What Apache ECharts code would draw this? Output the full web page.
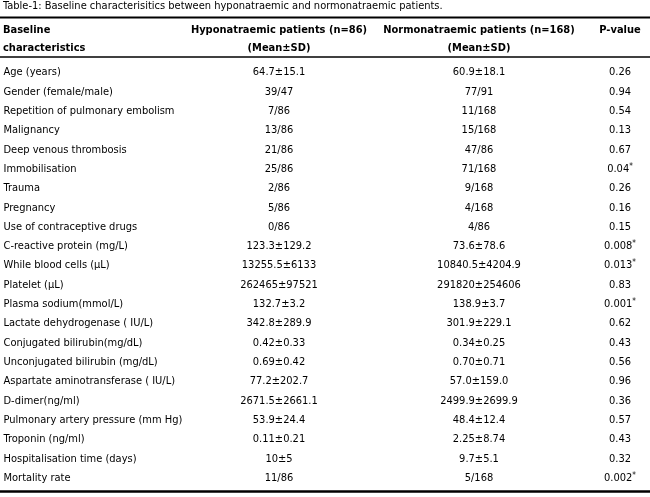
<!DOCTYPE html>
<html>
<head>
<meta charset="utf-8">
<script src="https://cdn.jsdelivr.net/npm/echarts@6/dist/echarts.min.js"></script>
<style>html,body{margin:0;padding:0;background:#fff}#c{width:650px;height:497px}</style>
</head>
<body>
<div id="c"></div>
<script>
const titleText = 'Table-1: Baseline characterisitics between hyponatraemic and normonatraemic patients.';
const headers = ['Baseline\ncharacteristics', 'Hyponatraemic patients (n=86)\n(Mean±SD)', 'Normonatraemic patients (n=168)\n(Mean±SD)', 'P-value\n\u00a0'];
const rowLabels = ['Age (years)', 'Gender (female/male)', 'Repetition of pulmonary embolism', 'Malignancy', 'Deep venous thrombosis', 'Immobilisation', 'Trauma', 'Pregnancy', 'Use of contraceptive drugs', 'C-reactive protein (mg/L)', 'While blood cells (µL)', 'Platelet (µL)', 'Plasma sodium(mmol/L)', 'Lactate dehydrogenase ( IU/L)', 'Conjugated bilirubin(mg/dL)', 'Unconjugated bilirubin (mg/dL)', 'Aspartate aminotransferase ( IU/L)', 'D-dimer(ng/ml)', 'Pulmonary artery pressure (mm Hg)', 'Troponin (ng/ml)', 'Hospitalisation time (days)', 'Mortality rate'];
const hypoValues = ['64.7±15.1', '39/47', '7/86', '13/86', '21/86', '25/86', '2/86', '5/86', '0/86', '123.3±129.2', '13255.5±6133', '262465±97521', '132.7±3.2', '342.8±289.9', '0.42±0.33', '0.69±0.42', '77.2±202.7', '2671.5±2661.1', '53.9±24.4', '0.11±0.21', '10±5', '11/86'];
const normoValues = ['60.9±18.1', '77/91', '11/168', '15/168', '47/86', '71/168', '9/168', '4/168', '4/86', '73.6±78.6', '10840.5±4204.9', '291820±254606', '138.9±3.7', '301.9±229.1', '0.34±0.25', '0.70±0.71', '57.0±159.0', '2499.9±2699.9', '48.4±12.4', '2.25±8.74', '9.7±5.1', '5/168'];
const pValues = ['0.26', '0.94', '0.54', '0.13', '0.67', '0.04*', '0.26', '0.16', '0.15', '0.008*', '0.013*', '0.83', '0.001*', '0.62', '0.43', '0.56', '0.96', '0.36', '0.57', '0.43', '0.32', '0.002*'];

const columns = [rowLabels, hypoValues, normoValues, pValues];
const FONT = "'DejaVu Sans Condensed', 'Liberation Sans Narrow', sans-serif";
const layout = [
  {left: 0, width: 6, align: 'left'},
  {left: 249, width: 60, align: 'center'},
  {left: 449, width: 60, align: 'center'},
  {left: 590, width: 60, align: 'center'}
];
const GRID_TOP = 62.85, GRID_BOTTOM = 9.35;
const BODY_SIZE = 11, HEAD_SIZE = 11, TITLE_SIZE = 11;

const chart = echarts.init(document.getElementById('c'), null, {renderer: 'canvas'});
const grids = [], xAxes = [], yAxes = [], series = [];
columns.forEach((col, i) => {
  const L = layout[i];
  grids.push({left: L.left, width: L.width, top: GRID_TOP, bottom: GRID_BOTTOM, containLabel: false, outerBoundsMode: 'none', show: false});
  xAxes.push({
    type: 'category', gridIndex: i, position: 'top', data: [headers[i]],
    axisLine: {show: false}, axisTick: {show: false}, splitLine: {show: false},
    axisLabel: {show: true, interval: 0, margin: 6, align: L.align, fontFamily: FONT, fontSize: HEAD_SIZE, fontWeight: 'bold', lineHeight: 18, color: '#000'}
  });
  yAxes.push({type: 'category', gridIndex: i, data: rowLabels, inverse: true, show: false});
  series.push({
    type: 'scatter', xAxisIndex: i, yAxisIndex: i, silent: true,
    symbolSize: 1, itemStyle: {color: 'rgba(255,255,255,0)', opacity: 1},
    data: col.map((v, r) => [0, r]),
    label: {
      show: true,
      position: i === 0 ? 'right' : 'inside',
      distance: 0,
      opacity: 1,
      textBorderWidth: 0,
      fontFamily: FONT, fontSize: BODY_SIZE, color: '#000',
      formatter: p => {
        const t = col[p.dataIndex];
        if (i === 3 && t.endsWith('*')) return t.slice(0, -1) + '{s|*}';
        return t;
      },
      rich: {s: {fontSize: 8, verticalAlign: 'top', fontFamily: FONT, color: '#000', padding: [0, 0, 5, 0]}}
    },
    emphasis: {disabled: true}
  });
});

chart.setOption({
  animation: false,
  backgroundColor: '#fff',
  title: {text: titleText, left: 1, top: 0, padding: [1, 2], textStyle: {fontFamily: FONT, fontSize: TITLE_SIZE, fontWeight: 'normal', color: '#000'}},
  grid: grids, xAxis: xAxes, yAxis: yAxes, series: series,
  graphic: [
    {type: 'line', shape: {x1: 0, y1: 17.5, x2: 650, y2: 17.5}, style: {stroke: '#000', lineWidth: 2}, silent: true},
    {type: 'line', shape: {x1: 0, y1: 57, x2: 650, y2: 57}, style: {stroke: '#000', lineWidth: 1.5}, silent: true},
    {type: 'line', shape: {x1: 0, y1: 491.5, x2: 650, y2: 491.5}, style: {stroke: '#000', lineWidth: 2.5}, silent: true}
  ]
});
</script>
</body>
</html>
